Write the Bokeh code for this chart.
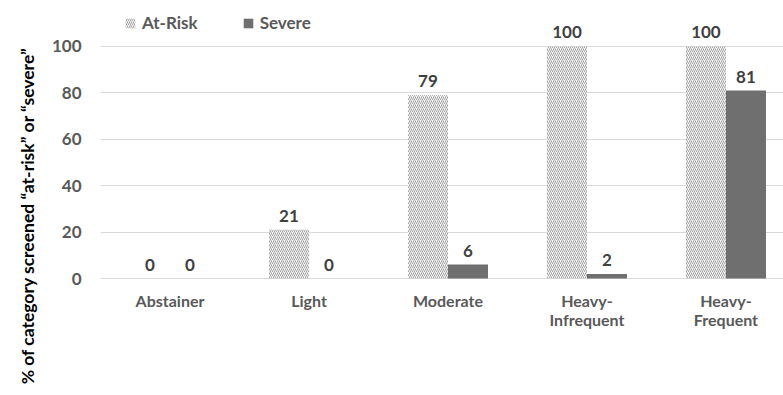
from bokeh.plotting import figure
from bokeh.models import ColumnDataSource, Legend, LegendItem, FixedTicker, Range1d
from bokeh.transform import dodge
from bokeh.core.properties import value
from bokeh.embed import file_html
from bokeh.resources import INLINE

categories = ["Abstainer", "Light", "Moderate", "Heavy-\nInfrequent", "Heavy-\nFrequent"]
at_risk = [0, 21, 79, 100, 100]
severe = [0, 0, 6, 2, 81]
y_ticks = [0, 20, 40, 60, 80, 100]

FONT = "Lato"
src = ColumnDataSource(dict(
    x=list(range(len(categories))),
    cat=categories,
    at_risk=at_risk,
    severe=severe,
    at_risk_lbl=[str(v) for v in at_risk],
    severe_lbl=[str(v) for v in severe],
    zero=[0] * len(categories),
))

p = figure(width=783, height=395, output_backend="svg", toolbar_location=None,
           x_range=Range1d(-0.5, 4.414), y_range=Range1d(-50.4, 115.5),
           min_border_left=100, min_border_right=0, min_border_top=10, min_border_bottom=0)
p.outline_line_color = None
p.xaxis.visible = False
p.xgrid.grid_line_color = None
p.ygrid.grid_line_color = "#d9d9d9"
p.ygrid.grid_line_width = 1
p.yaxis.ticker = FixedTicker(ticks=y_ticks)
p.yaxis.axis_line_color = None
p.yaxis.major_tick_line_color = None
p.yaxis.minor_tick_line_color = None
p.yaxis.major_tick_out = 0
p.yaxis.major_label_standoff = 19
p.yaxis.major_label_text_font = FONT
p.yaxis.major_label_text_font_style = "bold"
p.yaxis.major_label_text_font_size = "17px"
p.yaxis.major_label_text_color = "#595959"
p.yaxis.axis_label = "% of category screened \u201cat-risk\u201d or \u201csevere\u201d" + "\u00a0" * 6
p.yaxis.axis_label_text_font = FONT
p.yaxis.axis_label_text_font_style = "bold"
p.yaxis.axis_label_text_font_size = "17.5px"
p.yaxis.axis_label_text_color = "#000000"
p.yaxis.axis_label_standoff = 11

bw = 0.288
r1 = p.vbar(x=dodge("x", -bw / 2, range=p.x_range), top="at_risk", width=bw, source=src,
            fill_color="#f2f2f2", line_color=None,
            hatch_pattern="right_diagonal_line", hatch_color="#a6a6a6",
            hatch_scale=4, hatch_weight=1)
r2 = p.vbar(x=dodge("x", bw / 2, range=p.x_range), top="severe", width=bw, source=src,
            fill_color="#6f6f6f", line_color=None)

lbl_kw = dict(text_align="center", text_baseline="bottom", y_offset=-8,
              text_font=value(FONT), text_font_style="bold", text_font_size="17px",
              text_color="#404040", source=src)
p.text(x=dodge("x", -bw / 2, range=p.x_range), y="at_risk", text="at_risk_lbl", **lbl_kw)
p.text(x=dodge("x", bw / 2, range=p.x_range), y="severe", text="severe_lbl", **lbl_kw)

p.text(x="x", y="zero", text="cat", y_offset=12, text_align="center", text_baseline="top",
       text_font=value(FONT), text_font_style="bold", text_font_size="16px",
       text_color="#595959", text_line_height=1.05, source=src)

legend = Legend(items=[LegendItem(label="At-Risk", renderers=[r1]),
                       LegendItem(label="Severe", renderers=[r2])],
                orientation="horizontal", location=(24, 362),
                border_line_color=None, background_fill_alpha=0,
                label_text_font=FONT, label_text_font_style="bold",
                label_text_font_size="17px", label_text_color="#595959",
                glyph_width=12, glyph_height=12, spacing=44, label_standoff=6,
                padding=0, margin=0)
p.add_layout(legend)

open("out.html", "w").write(file_html(p, INLINE))
